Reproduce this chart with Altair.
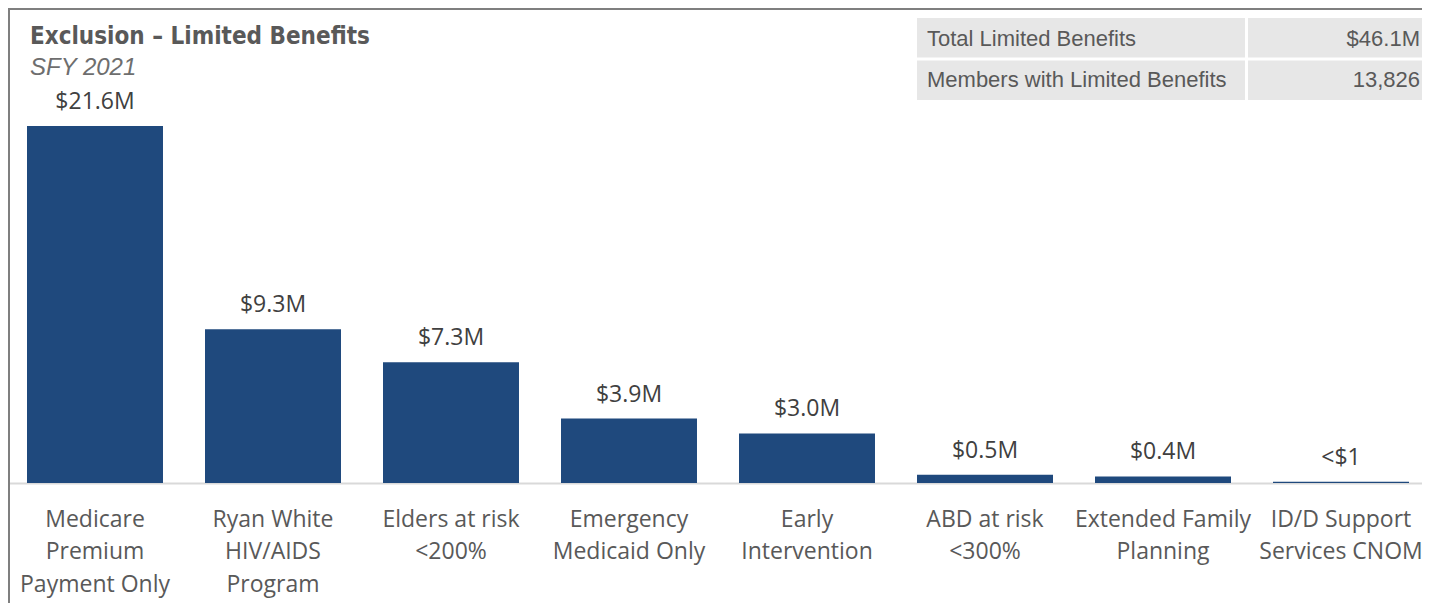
import altair as alt
import pandas as pd

categories = ["Medicare|Premium|Payment Only", "Ryan White|HIV/AIDS|Program", "Elders at risk|<200%",
              "Emergency|Medicaid Only", "Early|Intervention", "ABD at risk|<300%",
              "Extended Family|Planning", "ID/D Support|Services CNOM"]
values = [21.6, 9.3, 7.3, 3.9, 3.0, 0.5, 0.4, 0.08]
value_labels = ["$21.6M", "$9.3M", "$7.3M", "$3.9M", "$3.0M", "$0.5M", "$0.4M", "<$1"]

metrics = ["Total Limited Benefits", "Members with Limited Benefits"]
metric_values = ["$46.1M", "13,826"]

df = pd.DataFrame({"category": categories, "value": values, "label": value_labels})
tdf = pd.DataFrame({"metric": metrics, "mval": metric_values})
frame_df = pd.DataFrame({"k": [0]})

W, H = 1414, 475
ymax = 28.73

xenc = alt.X("category:N", sort=categories, title=None,
             scale=alt.Scale(paddingInner=0.236, paddingOuter=0.118, range=[-2, 1422]),
             axis=alt.Axis(labelExpr="split(datum.label, '|')", labelAngle=0, ticks=False,
                           domainColor="#d9d9d9", domainWidth=2, labelFont="Open Sans",
                           labelFontSize=23, labelColor="#595959", labelLineHeight=32.5,
                           labelPadding=25, labelLimit=400, labelOverlap=False, labelBound=False,
                           grid=False, labelBaseline="top"))
yenc = alt.Y("value:Q", scale=alt.Scale(domain=[0, ymax], nice=False, zero=True), axis=None)

bars = alt.Chart(df).mark_bar(color="#1f497d").encode(x=xenc, y=yenc)
labels = alt.Chart(df).mark_text(dy=-17, baseline="alphabetic", font="Open Sans", fontSize=23,
                                 color="#404040").encode(x=xenc, y=yenc, text="label:N")

ty = alt.Y("metric:N", sort=metrics, axis=None,
           scale=alt.Scale(range=[10, 92], paddingInner=0.075, paddingOuter=0))
cell1 = alt.Chart(tdf).mark_rect(color="#e7e7e7").encode(y=ty, x=alt.value(909), x2=alt.value(1237))
cell2 = alt.Chart(tdf).mark_rect(color="#e7e7e7").encode(y=ty, x=alt.value(1240), x2=alt.value(1430))
txt1 = alt.Chart(tdf).mark_text(align="left", baseline="middle", font="Liberation Sans", fontSize=22,
                                color="#595959").encode(y=ty, x=alt.value(919), text="metric:N")
txt2 = alt.Chart(tdf).mark_text(align="right", baseline="middle", font="Liberation Sans", fontSize=22,
                                color="#595959").encode(y=ty, x=alt.value(1412), text="mval:N")

border = alt.Chart(frame_df).mark_rect(filled=False, stroke="#7f7f7f", strokeWidth=2).encode(
    x=alt.value(1), y=alt.value(1), x2=alt.value(1600), y2=alt.value(900))

chart = alt.layer(border, bars, labels, cell1, cell2, txt1, txt2).resolve_scale(
    y="independent"
).properties(
    width=W, height=H,
    autosize=alt.AutoSizeParams(type="none"),
    padding={"left": 0, "top": 0, "right": 0, "bottom": 120},
    title=alt.Title("Exclusion – Limited Benefits", subtitle="SFY 2021", anchor="start",
                    font="DejaVu Sans Condensed, Liberation Sans Narrow, sans-serif",
                    fontWeight="bold", fontSize=24, color="#595959",
                    subtitleFont="Liberation Sans", subtitleFontStyle="italic", subtitleFontSize=24,
                    subtitleColor="#6e6e6e", subtitlePadding=7, dx=22, dy=72, offset=0, frame="group"),
).configure_view(stroke=None).configure(background="white")

chart.save("out.html", embed_options={"renderer": "svg", "actions": False})
